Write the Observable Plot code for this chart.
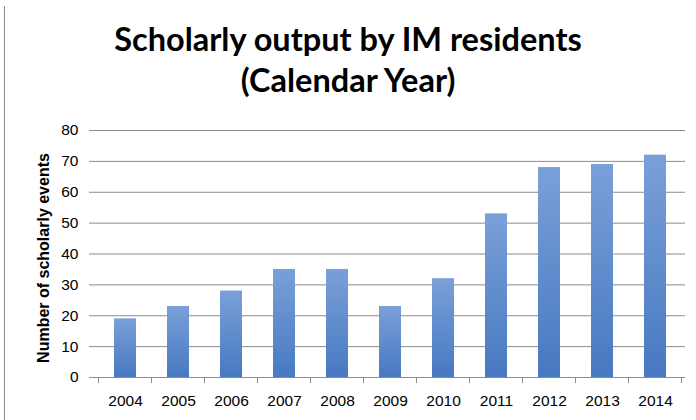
<!DOCTYPE html>
<html>
<head>
<meta charset="utf-8">
<script src="https://cdn.jsdelivr.net/npm/d3@7"></script>
<script src="https://cdn.jsdelivr.net/npm/@observablehq/plot@0.6"></script>
<style>
  html, body { margin: 0; padding: 0; background: #fff; }
  #wrap { position: relative; width: 696px; height: 420px; overflow: hidden; background: #fff; }
  #frame { position: absolute; left: 4px; top: 6px; bottom: 0; width: 1px; background: #8a8a8a; z-index: 2; }
  #title { position: absolute; left: 0; top: 0; width: 696px; text-align: center;
    font-family: Lato, "Open Sans", sans-serif; font-weight: bold; font-size: 32.5px; line-height: 41px; color: #000; padding-top: 18px; }
  #chart { position: absolute; left: 0; top: 110px; }
</style>
</head>
<body>
<div id="wrap">
  <div id="title">Scholarly output by IM residents<br>(Calendar Year)</div>
  <div id="chart"></div>
  <div id="frame"></div>
</div>
<script>
const years = ["2004","2005","2006","2007","2008","2009","2010","2011","2012","2013","2014"];
const counts = [19, 23, 28, 35, 35, 23, 32, 53, 68, 69, 72];
const yTicks = [0, 10, 20, 30, 40, 50, 60, 70, 80];
const yLabel = "Number of scholarly events";

const data = years.map((y, i) => ({year: y, value: counts[i]}));

const plot = Plot.plot({
  width: 696,
  height: 310,
  marginTop: 20,
  marginBottom: 43,
  marginLeft: 95,
  marginRight: 11,
  style: {fontFamily: "'Liberation Sans', Arial, sans-serif", fontSize: "15.5px", color: "#000", background: "transparent", overflow: "visible"},
  x: {domain: years, paddingInner: 0.59, paddingOuter: 0.295, label: null},
  y: {domain: [0, 80], label: null},
  marks: [
    Plot.gridY(yTicks.filter(d => d > 0), {stroke: "#8c8c8c", strokeOpacity: 1}),
    Plot.barY(data, {x: "year", y: "value", fill: "url(#barGrad)",
      style: "filter: drop-shadow(1.5px 1px 1px rgba(0,0,0,0.28))"}),
    Plot.ruleX([0], {frameAnchor: "left", stroke: "#8c8c8c"}),
    Plot.ruleY([0], {stroke: "#8c8c8c"}),
    Plot.axisY({ticks: yTicks, tickSize: 6, tickPadding: 11, stroke: "#8c8c8c", label: null, fill: "#000"}),
    Plot.axisX({tickSize: 0, tickPadding: 17, label: null, fill: "#000"}),
    Plot.text([yLabel], {frameAnchor: "left", textAnchor: "middle", lineAnchor: "middle", dx: -52, dy: 4, rotate: -90, fontWeight: "bold",
      fontSize: 16, fontFamily: "'Liberation Sans Narrow', 'Liberation Sans', Arial, sans-serif", fill: "#000"})
  ]
});

const svg = d3.select(plot);
const defs = svg.insert("defs", ":first-child");
const g = defs.append("linearGradient").attr("id", "barGrad")
  .attr("x1", 0).attr("y1", 0).attr("x2", 0).attr("y2", 1);
g.append("stop").attr("offset", "0%").attr("stop-color", "#7aa0d8");
g.append("stop").attr("offset", "100%").attr("stop-color", "#4779c1");

// category boundary ticks (Excel style), derived from the x band scale
const xs = plot.scale("x");
const ys = plot.scale("y");
const bw = xs.bandwidth, step = xs.step;
const y0 = ys.apply(0);
const bounds = years.map(d => xs.apply(d) + bw / 2 + step / 2);
bounds.unshift(xs.apply(years[0]) + bw / 2 - step / 2);
svg.append("g").selectAll("line").data(bounds).join("line")
  .attr("x1", d => d).attr("x2", d => d)
  .attr("y1", y0).attr("y2", y0 + 6)
  .attr("stroke", "#8c8c8c");

document.getElementById("chart").appendChild(plot);
</script>
</body>
</html>
